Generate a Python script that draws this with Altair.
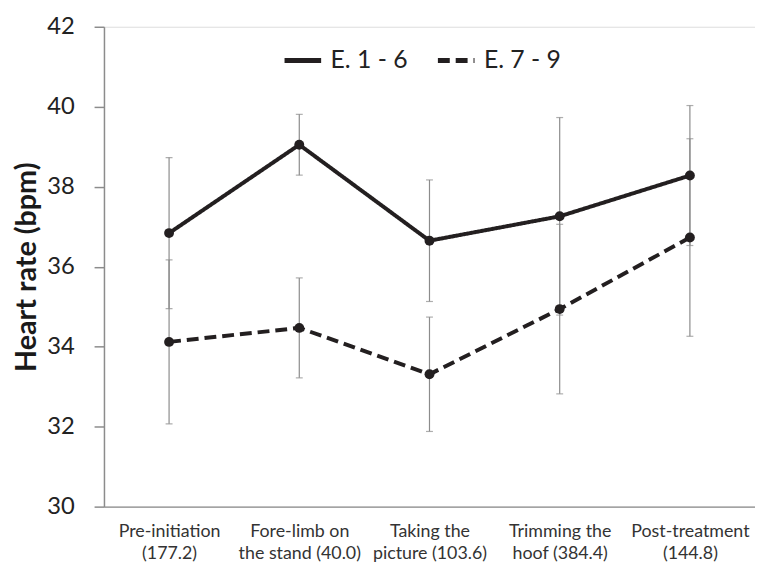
import altair as alt
import pandas as pd

categories = [
    "Pre-initiation|(177.2)",
    "Fore-limb on|the stand (40.0)",
    "Taking the|picture (103.6)",
    "Trimming the|hoof (384.4)",
    "Post-treatment|(144.8)",
]
series_names = ["E. 1 - 6", "E. 7 - 9"]
mean_e1_6 = [36.84, 39.05, 36.65, 37.26, 38.28]
sd_e1_6 = [1.89, 0.76, 1.52, 2.47, 1.75]
mean_e7_9 = [34.12, 34.47, 33.31, 34.94, 36.73]
sd_e7_9 = [2.05, 1.25, 1.43, 2.12, 2.47]
y_ticks = [30, 32, 34, 36, 38, 40, 42]

rows = []
for name, means, sds in [(series_names[0], mean_e1_6, sd_e1_6), (series_names[1], mean_e7_9, sd_e7_9)]:
    for c, m, s in zip(categories, means, sds):
        rows.append({"cat": c, "series": name, "mean": m, "lo": m - s, "hi": m + s})
df = pd.DataFrame(rows)

FONT = "Lato"
INK = "#231f20"
GRAY = "#8c8c8c"

x_enc = alt.X(
    "cat:N",
    sort=categories,
    scale=alt.Scale(type="point", padding=0.5),
    axis=alt.Axis(
        title=None,
        labelAngle=0,
        labelExpr="split(datum.label, '|')",
        labelFont=FONT,
        labelFontSize=18,
        labelColor="#333333",
        labelLineHeight=22,
        labelPadding=16,
        ticks=False,
        domainColor=GRAY,
        domainWidth=1.5,
    ),
)
y_scale = alt.Scale(domain=[30, 42], nice=False, zero=False)
y_axis = alt.Axis(
    title="Heart rate (bpm)",
    titleFont=FONT,
    titleFontSize=29,
    titleFontWeight="bold",
    titleColor="#1a1a1a",
    titlePadding=5,
    values=y_ticks,
    grid=False,
    tickSize=10,
    tickColor=GRAY,
    tickWidth=1.5,
    domainColor=GRAY,
    domainWidth=1.5,
    labelFont=FONT,
    labelFontSize=24,
    labelColor="#222222",
    labelPadding=20,
)

base = alt.Chart(df)

err = base.mark_rule(color=GRAY, strokeWidth=1.2).encode(
    x=x_enc,
    y=alt.Y("lo:Q", scale=y_scale, axis=y_axis),
    y2="hi:Q",
)
cap_lo = base.mark_tick(color=GRAY, size=7, thickness=1.2, orient="horizontal").encode(
    x=x_enc, y=alt.Y("lo:Q", scale=y_scale)
)
cap_hi = base.mark_tick(color=GRAY, size=7, thickness=1.2, orient="horizontal").encode(
    x=x_enc, y=alt.Y("hi:Q", scale=y_scale)
)
lines = base.mark_line(color=INK, strokeWidth=4).encode(
    x=x_enc,
    y=alt.Y("mean:Q", scale=y_scale),
    detail="series:N",
    strokeDash=alt.StrokeDash(
        "series:N",
        scale=alt.Scale(domain=series_names, range=[[1, 0], [12, 6]]),
        legend=alt.Legend(
            title=None,
            orient="none",
            legendX=180,
            legendY=13,
            direction="horizontal",
            symbolType="stroke",
            symbolSize=1369,
            symbolStrokeWidth=5,
            symbolStrokeColor=INK,
            labelFont=FONT,
            labelFontSize=25,
            labelColor="#222222",
            labelOffset=7,
            columnPadding=20,
        ),
    ),
)
points = base.mark_point(filled=True, color=INK, size=100, opacity=1).encode(
    x=x_enc, y=alt.Y("mean:Q", scale=y_scale)
)

chart = alt.layer(err, cap_lo, cap_hi, lines, points).properties(
    width=658,
    height=485,
    autosize=alt.AutoSizeParams(type="none"),
    padding={"left": 97, "top": 16, "right": 0, "bottom": 54},
).configure_view(stroke=None).configure(background="white")

chart.save("out.html", embed_options={"renderer": "svg", "actions": False})
